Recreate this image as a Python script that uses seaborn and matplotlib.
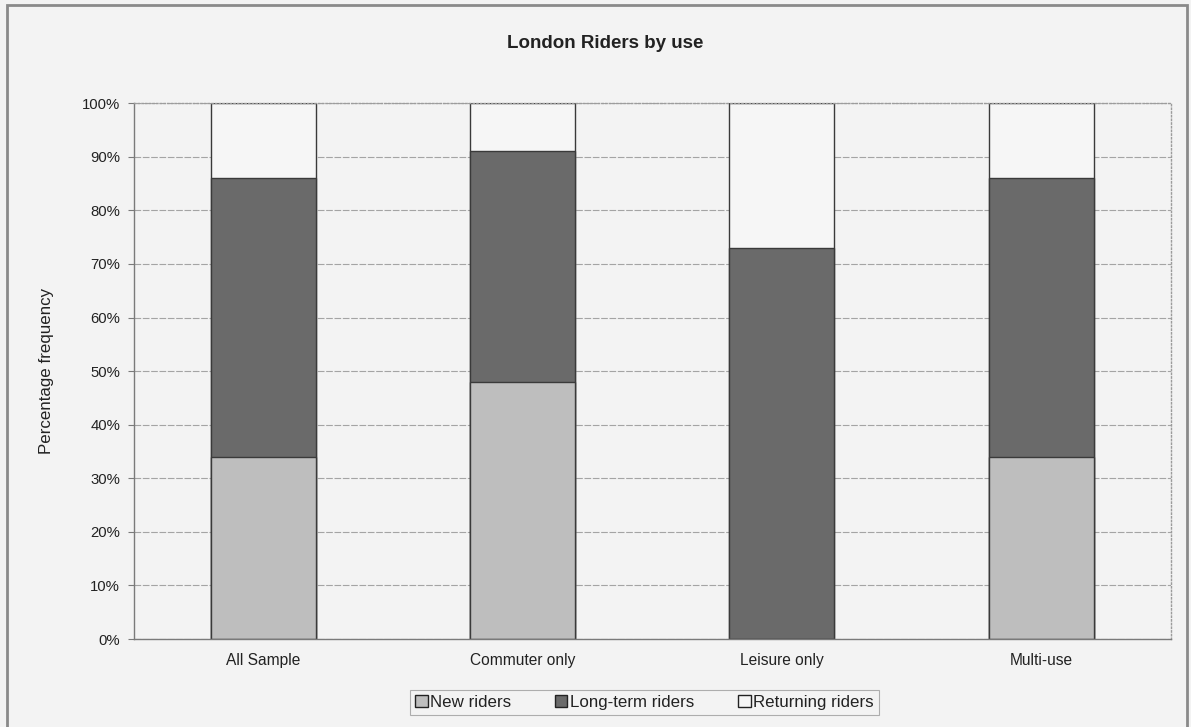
import matplotlib
matplotlib.use("Agg")
import matplotlib.pyplot as plt
from matplotlib.patches import Rectangle, Patch
from matplotlib.ticker import PercentFormatter, MultipleLocator
import pandas as pd
import seaborn as sns

# Share of riders in each group (percent)
categories = ["All Sample", "Commuter only", "Leisure only", "Multi-use"]
new_riders = [34, 48, 0, 34]
long_term_riders = [52, 43, 73, 52]
returning_riders = [14, 9, 27, 14]

series_names = ["New riders", "Long-term riders", "Returning riders"]
series_colors = ["#bebebe", "#6a6a6a", "#f6f6f6"]

sns.set_theme(style="white")
plt.rcParams["font.family"] = ["Liberation Sans", "DejaVu Sans"]

paper = "#f3f3f3"
fig = plt.figure(figsize=(11.91, 7.27), dpi=100, facecolor=paper)
ax = fig.add_axes([0.1125, 0.121, 0.8705, 0.737])
ax.set_facecolor(paper)

# Cumulative tops so that the stacks can be layered from the top down
df = pd.DataFrame({
    "category": categories,
    "new": new_riders,
    "long": long_term_riders,
    "ret": returning_riders,
})
df["top_new"] = df["new"]
df["top_long"] = df["new"] + df["long"]
df["top_ret"] = df["new"] + df["long"] + df["ret"]

for col, color in zip(["top_ret", "top_long", "top_new"], series_colors[::-1]):
    sns.barplot(data=df, x="category", y=col, color=color, width=0.405,
                edgecolor="#3a3a3a", linewidth=1.0, saturation=1, ax=ax,
                order=categories)

ax.set_xlim(-0.5, len(categories) - 0.5)
ax.set_ylim(0, 100)
ax.yaxis.set_major_locator(MultipleLocator(10))
ax.yaxis.set_major_formatter(PercentFormatter(decimals=0))
ax.set_xlabel("")
ax.set_ylabel("Percentage frequency", fontsize=12.2, color="#222222")
ax.yaxis.set_label_coords(-0.077, 0.5)

ax.grid(axis="y", color="#a4a4a4", linestyle=(0, (6, 1.5)), linewidth=0.8)
ax.set_axisbelow(True)

for side in ["left", "bottom"]:
    ax.spines[side].set_color("#7a7a7a")
    ax.spines[side].set_linewidth(1.0)
for side in ["top", "right"]:
    ax.spines[side].set_color("#9c9c9c")
    ax.spines[side].set_linestyle(":")
    ax.spines[side].set_linewidth(1.0)

ax.tick_params(axis="y", which="major", direction="out", length=4, width=0.8,
               color="#7a7a7a", labelsize=10.7, labelcolor="#222222", pad=6,
               left=True)
ax.tick_params(axis="x", length=0, labelsize=11.2, labelcolor="#222222", pad=10)

fig.text(605 / 1191, 1 - 44 / 727, "London Riders by use", ha="center",
         va="center", fontsize=13.5, fontweight="bold", color="#222222")

handles = [Patch(facecolor=c, edgecolor="#222222", linewidth=1.0)
           for c in series_colors]
leg = fig.legend(handles, series_names, loc="center",
                 bbox_to_anchor=(644.5 / 1191, 1 - 702.5 / 727), ncol=3,
                 fontsize=12.2, frameon=True, fancybox=False,
                 handlelength=0.72, handleheight=0.72, handletextpad=0.15,
                 columnspacing=2.6, borderpad=0.3, borderaxespad=0)
leg.get_frame().set_edgecolor("#9c9c9c")
leg.get_frame().set_linewidth(0.8)
leg.get_frame().set_facecolor(paper)
for t in leg.get_texts():
    t.set_color("#222222")

# Outer chart-area frame
fig.patches.append(Rectangle((7 / 1191, -0.05), (1187 - 7) / 1191,
                             1.05 - 5 / 727, transform=fig.transFigure,
                             fill=False, edgecolor="#8a8a8a", linewidth=2.0))

fig.savefig("out.png", dpi=100, facecolor=paper)
